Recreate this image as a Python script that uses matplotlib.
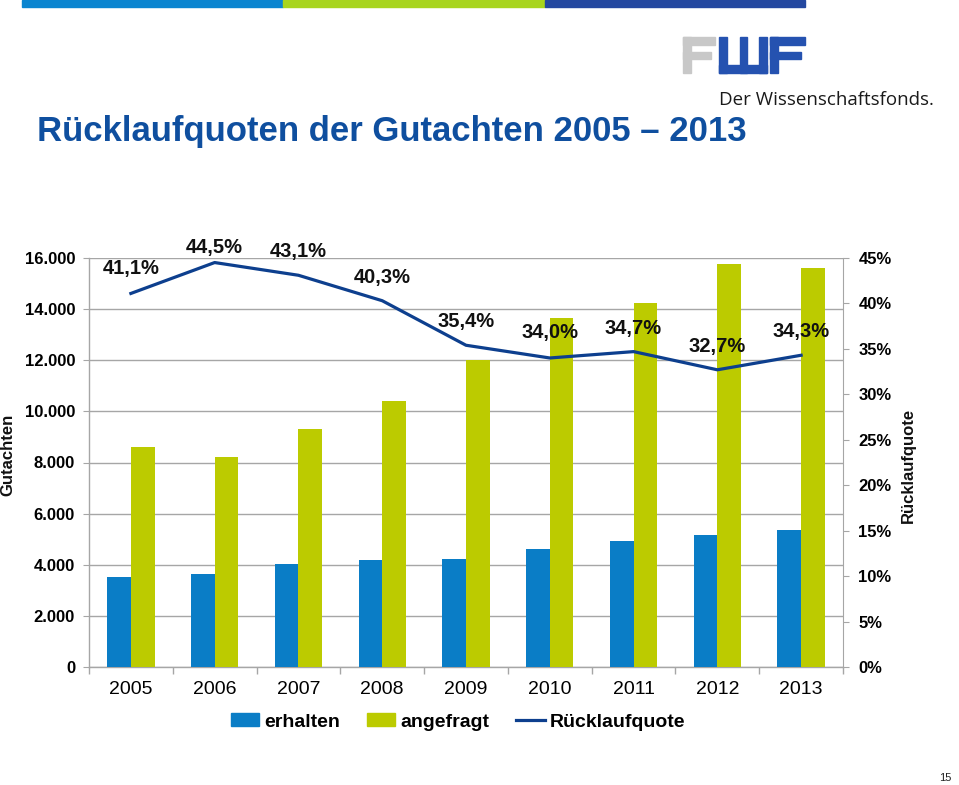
import matplotlib
matplotlib.use("Agg")
import matplotlib.pyplot as plt
import numpy as np
from matplotlib.patches import Rectangle
from matplotlib.lines import Line2D
from matplotlib.ticker import FuncFormatter, FixedLocator

plt.rcParams['font.family'] = ['Liberation Sans', 'DejaVu Sans']

years = ["2005", "2006", "2007", "2008", "2009", "2010", "2011", "2012", "2013"]
erhalten = [3530, 3640, 4030, 4190, 4230, 4630, 4930, 5150, 5350]
angefragt = [8600, 8200, 9310, 10400, 12000, 13670, 14250, 15770, 15620]
quote = [41.1, 44.5, 43.1, 40.3, 35.4, 34.0, 34.7, 32.7, 34.3]
quote_labels = ["41,1%", "44,5%", "43,1%", "40,3%", "35,4%", "34,0%", "34,7%", "32,7%", "34,3%"]
left_ticks = [0, 2000, 4000, 6000, 8000, 10000, 12000, 14000, 16000]
right_ticks = [0, 5, 10, 15, 20, 25, 30, 35, 40, 45]

C_BLUE = "#0a7dc6"
C_GREEN = "#bccb00"
C_LINE = "#0d3f8e"
C_TITLE = "#0f4f9f"
C_GRID = "#a6a6a6"

W, H = 959, 785
fig = plt.figure(figsize=(W / 100, H / 100), dpi=100)

def fx(px):
    return px / W

def fy(py):
    return 1 - py / H

# top colour strip
for x0, x1, c in [(22, 283, "#0a85d0"), (283, 545, "#a8d51e"), (545, 805, "#2448a0")]:
    fig.patches.append(Rectangle((fx(x0), fy(7)), fx(x1 - x0), 7 / H,
                                 transform=fig.transFigure, color=c, zorder=5))

# logo
def frect(x0, y0, x1, y1, c):
    fig.patches.append(Rectangle((fx(x0), fy(y1)), fx(x1 - x0), (y1 - y0) / H,
                                 transform=fig.transFigure, color=c, zorder=5))

gray = "#c8c8c8"
lblue = "#2552b0"
# gray F
frect(683, 37, 691, 73, gray)
frect(683, 37, 715, 45, gray)
frect(683, 52, 711, 59, gray)
# blue W (U with middle bar)
frect(719, 37, 727, 73, lblue)
frect(740, 37, 747, 73, lblue)
frect(759, 37, 767, 73, lblue)
frect(719, 65, 767, 73, lblue)
# blue F
frect(770, 37, 778, 73, lblue)
frect(770, 37, 805, 45, lblue)
frect(770, 52, 801, 59, lblue)
fig.text(fx(719), fy(100), "Der Wissenschaftsfonds.", family=["Open Sans", "DejaVu Sans"],
         fontsize=13.5, color="#1a1a1a", ha="left", va="center")

# title
fig.text(fx(37), fy(131), "Rücklaufquoten der Gutachten 2005 – 2013", fontsize=25,
         fontweight="bold", color=C_TITLE, ha="left", va="center")

# axes
ax = fig.add_axes([fx(89), fy(667), fx(843 - 89), (667 - 258) / H])
x = np.arange(len(years))
bw = 0.283
ax.bar(x - bw / 2, erhalten, bw, color=C_BLUE, zorder=3)
ax.bar(x + bw / 2, angefragt, bw, color=C_GREEN, zorder=3)
ax.set_xlim(-0.5, len(years) - 0.5)
ax.set_ylim(0, 16000)
ax.yaxis.set_major_locator(FixedLocator(left_ticks))
ax.yaxis.set_major_formatter(FuncFormatter(lambda v, p: f"{int(v):,}".replace(",", ".")))
ax.grid(axis="y", color=C_GRID, linewidth=1, zorder=0)
ax.set_xticks(x)
ax.set_xticklabels(years, fontsize=14)
ax.set_xticks(np.arange(len(years) + 1) - 0.5, minor=True)
ax.tick_params(axis="x", which="major", length=0, pad=10)
ax.tick_params(axis="x", which="minor", length=5, color=C_GRID, width=1)
ax.tick_params(axis="y", length=4, color=C_GRID, labelsize=12, pad=6)
for lab in ax.get_yticklabels():
    lab.set_fontweight("bold")
for s in ["top", "right"]:
    ax.spines[s].set_visible(False)
for s in ["left", "bottom"]:
    ax.spines[s].set_color(C_GRID)
    ax.spines[s].set_linewidth(1)

ax2 = ax.twinx()
ax2.plot(x, quote, color=C_LINE, linewidth=2.3, zorder=4)
ax2.set_ylim(0, 45)
ax2.yaxis.set_major_locator(FixedLocator(right_ticks))
ax2.yaxis.set_major_formatter(FuncFormatter(lambda v, p: f"{int(v)}%"))
ax2.tick_params(axis="y", length=4, color=C_GRID, labelsize=12, pad=7)
for lab in ax2.get_yticklabels():
    lab.set_fontweight("bold")
for s in ["top", "left", "bottom"]:
    ax2.spines[s].set_visible(False)
ax2.spines["right"].set_color(C_GRID)

offsets = [18, 11, 17, 17, 17, 18, 17, 17, 17]
for xi, q, lab, off in zip(x, quote, quote_labels, offsets):
    ax2.annotate(lab, (xi, q), xytext=(0, off), textcoords="offset points",
                 ha="center", va="center", fontsize=14.5, fontweight="bold",
                 color="#111111", zorder=6)

fig.text(fx(8), fy(455), "Gutachten", rotation=90, fontsize=12, fontweight="bold",
         ha="center", va="center", color="#111111")
fig.text(fx(908), fy(465), "Rücklaufquote", rotation=90, fontsize=12, fontweight="bold",
         ha="center", va="center", color="#111111")

handles = [Rectangle((0, 0), 1, 1, color=C_BLUE),
           Rectangle((0, 0), 1, 1, color=C_GREEN),
           Line2D([0], [0], color=C_LINE, linewidth=2.3)]
leg = fig.legend(handles, ["erhalten", "angefragt", "Rücklaufquote"], ncol=3,
                 loc="center", bbox_to_anchor=(fx(458), fy(722)), frameon=False,
                 prop={"size": 14, "weight": "bold"}, handlelength=1.45,
                 handleheight=0.6, handletextpad=0.25, columnspacing=1.4)

fig.text(fx(945), fy(778), "15", fontsize=8, ha="center", va="center", color="#222222")

fig.savefig("out.png", dpi=100)
